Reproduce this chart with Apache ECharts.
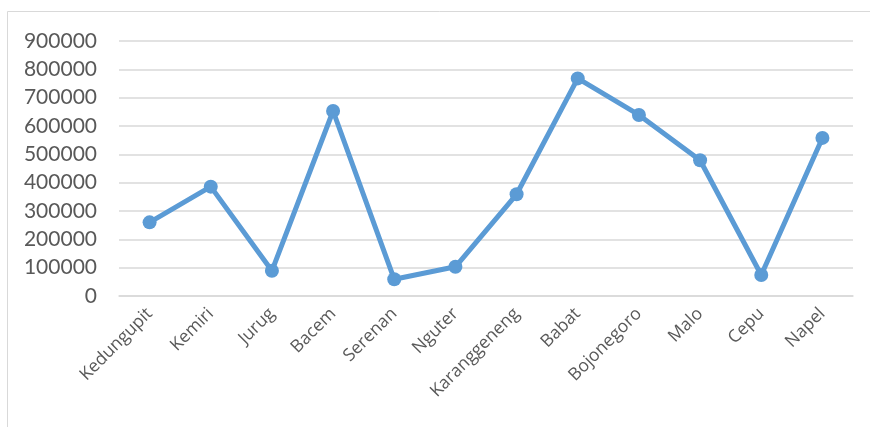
<!DOCTYPE html>
<html>
<head>
<meta charset="utf-8">
<script src="https://cdn.jsdelivr.net/npm/echarts@6/dist/echarts.min.js"></script>
<style>
  html, body { margin: 0; padding: 0; background: #ffffff; }
  #chart { width: 870px; height: 427px; }
</style>
</head>
<body>
<div id="chart"></div>
<script>
// Station names along the river
const categories = ['Kedungupit', 'Kemiri', 'Jurug', 'Bacem', 'Serenan', 'Nguter',
  'Karanggeneng', 'Babat', 'Bojonegoro', 'Malo', 'Cepu', 'Napel'];

// Value at each station
const values = [260000, 386000, 89000, 653000, 59000, 103000,
  359000, 768000, 639000, 479000, 74000, 558000];

// Value axis range
const yMin = 0;
const yMax = 900000;
const yStep = 100000;

const chart = echarts.init(document.getElementById('chart'));
chart.setOption({
  animation: false,
  backgroundColor: '#ffffff',
  graphic: [{
    type: 'rect',
    shape: { x: 7.5, y: 11.5, width: 900, height: 450 },
    style: { fill: 'none', stroke: '#d9d9d9', lineWidth: 1 },
    silent: true
  }],
  grid: { left: 119, right: 17, top: 41, bottom: 131 },
  xAxis: {
    type: 'category',
    data: categories,
    boundaryGap: true,
    axisLine: { show: true, lineStyle: { color: '#d9d9d9', width: 1.5 } },
    axisTick: { show: false },
    axisLabel: {
      rotate: 45,
      margin: 15,
      color: '#595959',
      fontFamily: '"Open Sans", sans-serif',
      fontSize: 17.5,
      interval: 0
    }
  },
  yAxis: {
    type: 'value',
    min: yMin,
    max: yMax,
    interval: yStep,
    axisLine: { show: false },
    axisTick: { show: false },
    splitLine: { lineStyle: { color: '#d9d9d9', width: 1.5 } },
    axisLabel: {
      margin: 22,
      color: '#595959',
      fontFamily: 'Lato',
      fontSize: 21,
      formatter: function (v) { return String(v); }
    }
  },
  series: [{
    type: 'line',
    data: values,
    symbol: 'circle',
    symbolSize: 14,
    lineStyle: { color: '#5b9bd5', width: 5 },
    itemStyle: { color: '#5b9bd5' }
  }]
});
</script>
</body>
</html>
